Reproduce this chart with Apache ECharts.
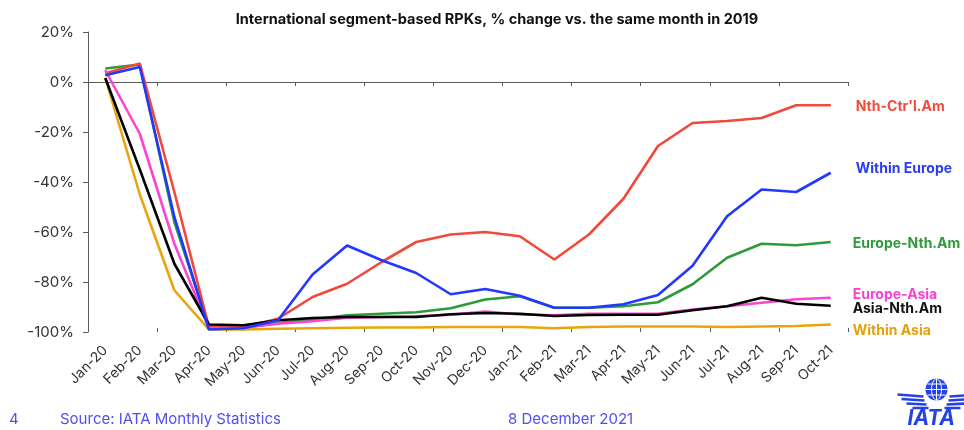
<!DOCTYPE html>
<html>
<head>
<meta charset="utf-8">
<script src="https://cdn.jsdelivr.net/npm/echarts@6/dist/echarts.min.js"></script>
<style>
    html, body { margin: 0; padding: 0; background: #fff; }
    #chart { width: 964px; height: 430px; }
</style>
</head>
<body>
<div id="chart"></div>
<script>
    // 月份
    const months = ['Jan-20', 'Feb-20', 'Mar-20', 'Apr-20', 'May-20', 'Jun-20', 'Jul-20', 'Aug-20', 'Sep-20', 'Oct-20', 'Nov-20', 'Dec-20',
        'Jan-21', 'Feb-21', 'Mar-21', 'Apr-21', 'May-21', 'Jun-21', 'Jul-21', 'Aug-21', 'Sep-21', 'Oct-21']

    // % change vs. same month in 2019
    const nthCtrlAm = [3.5, 7.4, -44, -98, -98, -94.7, -86, -80.7, -72, -64, -61, -60, -61.7, -71, -61, -46.7, -25.6, -16.4, -15.6, -14.4, -9.3, -9.3]
    const withinEurope = [2.7, 6, -54, -99, -98.5, -95.3, -77, -65.4, -71.3, -76.4, -84.9, -82.8, -85.5, -90.3, -90.3, -88.9, -85.2, -73.5, -53.7, -43, -44, -36.3]
    const europeNthAm = [5.4, 7, -56, -98, -98.3, -96.4, -95, -93.3, -92.7, -92.1, -90.5, -87, -85.7, -90.3, -90.3, -89.7, -88.1, -80.9, -70.3, -64.7, -65.3, -64]
    const europeAsia = [4.7, -20.7, -64.7, -98.5, -98.3, -96.7, -95.7, -94.3, -94, -93.7, -93.1, -91.8, -93, -93.3, -92.7, -92.7, -92.7, -91, -89.7, -88.3, -86.9, -86.3]
    const asiaNthAm = [1.6, -35, -72.7, -97, -97.3, -95.3, -94.4, -94, -94, -94, -92.9, -92.4, -92.7, -93.6, -93.2, -93.1, -93.1, -91.3, -89.7, -86.3, -88.7, -89.5]
    const withinAsia = [1.6, -45, -83.3, -99, -99, -98.7, -98.5, -98.3, -98.2, -98.2, -98, -98, -98, -98.5, -98, -97.8, -97.8, -97.8, -98, -97.8, -97.6, -97]

    const yTicks = [-100, -80, -60, -40, -20, 0, 20]

    const FONT = 'Inter, "Noto Sans", sans-serif'
    const AXIS_COLOR = '#5a5a5a'
    const FOOT_COLOR = '#4f4ff2'
    const LOGO_COLOR = '#2342e8'

    // 折线 + 右侧标签
    function line(name, data, color, labelColor, distance, dy) {
        return {
            name: name,
            type: 'line',
            data: data,
            symbol: 'none',
            smooth: false,
            lineStyle: {color: color, width: 2.6},
            itemStyle: {color: color},
            endLabel: {
                show: true,
                formatter: '{a}',
                color: labelColor,
                fontFamily: FONT,
                fontWeight: 'bold',
                fontSize: 14,
                distance: distance,
                offset: [0, dy]
            },
            emphasis: {disabled: true}
        }
    }

    const chart = echarts.init(document.getElementById('chart'), null, {renderer: 'canvas'})

    const option = {
        animation: false,
        backgroundColor: '#fff',
        textStyle: {fontFamily: FONT},
        title: {
            text: 'International segment-based RPKs, % change vs. the same month in 2019',
            left: 492,
            top: 7,
            textAlign: 'center',
            textStyle: {fontFamily: FONT, fontSize: 14.5, fontWeight: 'bold', color: '#111'}
        },
        grid: {
            left: 88,
            right: 116,
            top: 32,
            bottom: 98,
            containLabel: false,
            outerBoundsMode: 'none'
        },
        xAxis: [
            // 底部标签
            {
                type: 'category',
                data: months,
                position: 'bottom',
                axisLine: {show: false, onZero: false},
                axisTick: {show: false},
                splitLine: {show: false},
                axisLabel: {
                    interval: 0,
                    rotate: 45,
                    margin: 16,
                    color: '#333',
                    fontFamily: FONT,
                    fontSize: 14
                }
            },
            // 0% 处的轴线, 刻度向下
            {
                type: 'category',
                data: months,
                position: 'bottom',
                axisLine: {show: true, onZero: true, lineStyle: {color: AXIS_COLOR, width: 1}},
                axisTick: {show: true, inside: false, length: 4, lineStyle: {color: AXIS_COLOR}},
                axisLabel: {show: false},
                splitLine: {show: false}
            },
            // 刻度向上
            {
                type: 'category',
                data: months,
                position: 'bottom',
                axisLine: {show: false, onZero: true},
                axisTick: {show: true, inside: true, length: 4, lineStyle: {color: AXIS_COLOR}},
                axisLabel: {show: false},
                splitLine: {show: false}
            }
        ],
        yAxis: {
            type: 'value',
            min: yTicks[0],
            max: yTicks[yTicks.length - 1],
            interval: 20,
            axisLine: {show: true, lineStyle: {color: AXIS_COLOR, width: 1}},
            axisTick: {show: true, inside: false, length: 5, lineStyle: {color: AXIS_COLOR}},
            splitLine: {show: false},
            axisLabel: {
                formatter: '{value}%',
                margin: 14,
                color: '#333',
                fontFamily: FONT,
                fontSize: 15
            }
        },
        series: [
            line('Within Asia', withinAsia, '#e8a60c', '#e3a10a', 22, 6.5),
            line('Europe-Nth.Am', europeNthAm, '#2e9a3a', '#2f9a3a', 22, 1.5),
            line("Nth-Ctr'l.Am", nthCtrlAm, '#f2493a', '#f04b3b', 25, 2),
            line('Europe-Asia', europeAsia, '#fb45d2', '#fb3fd2', 22, -2.5),
            line('Asia-Nth.Am', asiaNthAm, '#000000', '#111111', 22, 3.5),
            line('Within Europe', withinEurope, '#2238ff', '#2a3cf0', 25, -3.5)
        ],
        graphic: [
            {type: 'text', left: 9, top: 412, style: {text: '4', font: '15px ' + FONT, fill: FOOT_COLOR}},
            {type: 'text', left: 60, top: 412, style: {text: 'Source: IATA Monthly Statistics', font: '15px ' + FONT, fill: FOOT_COLOR}},
            {type: 'text', left: 508, top: 412, style: {text: '8 December 2021', font: '15px ' + FONT, fill: FOOT_COLOR}},
            // IATA 标志
            {
                type: 'group',
                left: 895,
                top: 376,
                children: [
                    {type: 'circle', shape: {cx: 40, cy: 12, r: 11}, style: {fill: LOGO_COLOR}},
                    {type: 'ellipse', shape: {cx: 40, cy: 12, rx: 5, ry: 10.5}, style: {fill: null, stroke: '#fff', lineWidth: 1}},
                    {type: 'line', shape: {x1: 40, y1: 1, x2: 40, y2: 23}, style: {stroke: '#fff', lineWidth: 1}},
                    {type: 'line', shape: {x1: 29, y1: 12, x2: 51, y2: 12}, style: {stroke: '#fff', lineWidth: 1}},
                    {type: 'line', shape: {x1: 31, y1: 6.5, x2: 49, y2: 6.5}, style: {stroke: '#fff', lineWidth: 1}},
                    {type: 'line', shape: {x1: 31, y1: 17.5, x2: 49, y2: 17.5}, style: {stroke: '#fff', lineWidth: 1}},
                    // 左翼
                    {type: 'polyline', shape: {points: [[1, 17], [27, 19]]}, style: {stroke: LOGO_COLOR, lineWidth: 2.5}},
                    {type: 'polyline', shape: {points: [[5, 21.5], [28, 23]]}, style: {stroke: LOGO_COLOR, lineWidth: 2.5}},
                    {type: 'polyline', shape: {points: [[10, 26], [30, 27]]}, style: {stroke: LOGO_COLOR, lineWidth: 2.5}},
                    {type: 'polyline', shape: {points: [[16, 30.5], [32, 30.5]]}, style: {stroke: LOGO_COLOR, lineWidth: 2.5}},
                    // 右翼
                    {type: 'polyline', shape: {points: [[53, 19], [79, 17]]}, style: {stroke: LOGO_COLOR, lineWidth: 2.5}},
                    {type: 'polyline', shape: {points: [[52, 23], [75, 21.5]]}, style: {stroke: LOGO_COLOR, lineWidth: 2.5}},
                    {type: 'polyline', shape: {points: [[50, 27], [70, 26]]}, style: {stroke: LOGO_COLOR, lineWidth: 2.5}},
                    {type: 'polyline', shape: {points: [[48, 30.5], [64, 30.5]]}, style: {stroke: LOGO_COLOR, lineWidth: 2.5}},
                    {type: 'text', x: 11, y: 31, style: {text: 'IATA', font: 'italic bold 21px ' + FONT, fill: LOGO_COLOR}}
                ]
            }
        ]
    }

    chart.setOption(option)
</script>
</body>
</html>
